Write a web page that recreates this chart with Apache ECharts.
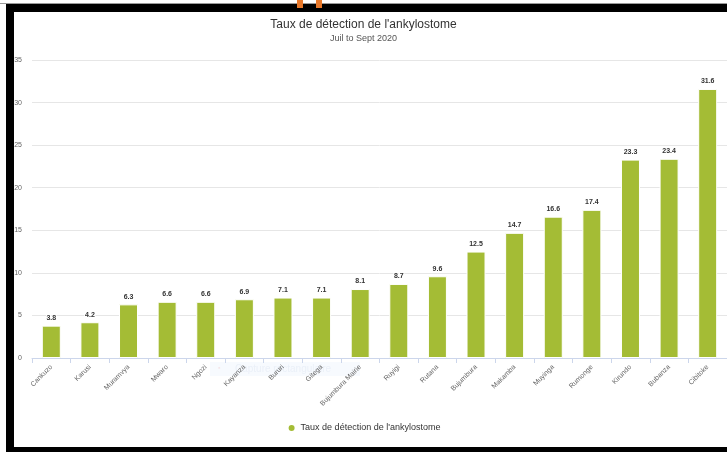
<!DOCTYPE html>
<html>
<head>
<meta charset="utf-8">
<script src="https://cdn.jsdelivr.net/npm/echarts@6/dist/echarts.min.js"></script>
<style>
  html, body { margin: 0; padding: 0; background: #ffffff; overflow: hidden; }
  #chart { width: 727px; height: 452px; }
</style>
</head>
<body>
<div id="chart"></div>
<script>
// Provinces, ordered by detection rate
const provinces = ['Cankuzo', 'Karusi', 'Muramvya', 'Mwaro', 'Ngozi', 'Kayanza', 'Bururi', 'Gitega',
  'Bujumbura Mairie', 'Ruyigi', 'Rutana', 'Bujumbura', 'Makamba', 'Muyinga', 'Rumonge', 'Kirundo',
  'Bubanza', 'Cibitoke'];
// Hookworm detection rate (%)
const detectionRate = [3.8, 4.2, 6.3, 6.6, 6.6, 6.9, 7.1, 7.1, 8.1, 8.7, 9.6, 12.5, 14.7, 16.6, 17.4,
  23.3, 23.4, 31.6];
const seriesName = "Taux de détection de l'ankylostome";
const yTicks = { min: 0, max: 35, interval: 5 };

const chart = echarts.init(document.getElementById('chart'), null, { renderer: 'canvas' });
const font = '"Liberation Sans", Arial, sans-serif';

chart.setOption({
  backgroundColor: '#ffffff',
  animation: false,
  title: {
    text: seriesName,
    subtext: 'Juil to Sept 2020',
    left: 'center',
    top: 14,
    itemGap: 3,
    textStyle: { fontFamily: font, fontSize: 12, fontWeight: 'normal', color: '#333333' },
    subtextStyle: { fontFamily: font, fontSize: 9, color: '#555555' }
  },
  legend: {
    bottom: 14,
    left: 'center',
    icon: 'circle',
    itemWidth: 8,
    itemHeight: 8,
    itemGap: 6,
    textStyle: { fontFamily: font, fontSize: 9, color: '#333333' }
  },
  grid: { left: 32, top: 60, width: 697, height: 298, containLabel: false },
  xAxis: {
    type: 'category',
    data: provinces,
    axisLine: { lineStyle: { color: '#ccd6eb' } },
    axisTick: { show: true, length: 5, lineStyle: { color: '#ccd6eb' } },
    axisLabel: {
      rotate: 45,
      interval: 0,
      margin: 8,
      fontFamily: font,
      fontSize: 7,
      color: '#666666'
    }
  },
  yAxis: {
    type: 'value',
    min: yTicks.min,
    max: yTicks.max,
    interval: yTicks.interval,
    axisLine: { show: false },
    axisTick: { show: false },
    axisLabel: { fontFamily: font, fontSize: 7, color: '#666666', margin: 10 },
    splitLine: { lineStyle: { color: '#e6e6e6', width: 1 } }
  },
  series: [{
    name: seriesName,
    type: 'bar',
    data: detectionRate,
    barWidth: 19,
    itemStyle: { color: '#a4bc35', borderColor: '#ffffff', borderWidth: 1 },
    label: {
      show: true,
      position: 'top',
      distance: 4,
      fontFamily: font,
      fontSize: 7,
      fontWeight: 'bold',
      color: '#333333',
      textBorderColor: '#ffffff',
      textBorderWidth: 2
    }
  }],
  graphic: [
    // faint selection hint floating over the axis labels
    {
      type: 'group', left: 210, top: 362, silent: true,
      children: [
        { type: 'rect', shape: { x: 0, y: 0, width: 150, height: 14 },
          style: { fill: 'rgba(225,236,250,0.25)' } },
        { type: 'text', style: { x: 8, y: 3, text: '▪', fill: 'rgba(232,150,150,0.2)', fontSize: 7 } },
        { type: 'text', style: { x: 25, y: 2, text: 'Capture rectangulaire', fill: 'rgba(200,212,230,0.25)',
          fontFamily: font, fontSize: 10 } }
      ]
    },
    // outer frame
    { type: 'rect', silent: true, shape: { x: 0, y: 3, width: 727, height: 1 }, style: { fill: '#9a9a9a' } },
    { type: 'rect', silent: true, shape: { x: 6, y: 4, width: 721, height: 8 }, style: { fill: '#000000' } },
    { type: 'rect', silent: true, shape: { x: 6, y: 4, width: 8, height: 448 }, style: { fill: '#000000' } },
    { type: 'rect', silent: true, shape: { x: 6, y: 447, width: 721, height: 5 }, style: { fill: '#000000' } },
    { type: 'rect', silent: true, shape: { x: 297, y: 0, width: 6, height: 8 }, style: { fill: '#e8782a' } },
    { type: 'rect', silent: true, shape: { x: 316, y: 0, width: 6, height: 8 }, style: { fill: '#e8782a' } }
  ]
});
</script>
</body>
</html>
